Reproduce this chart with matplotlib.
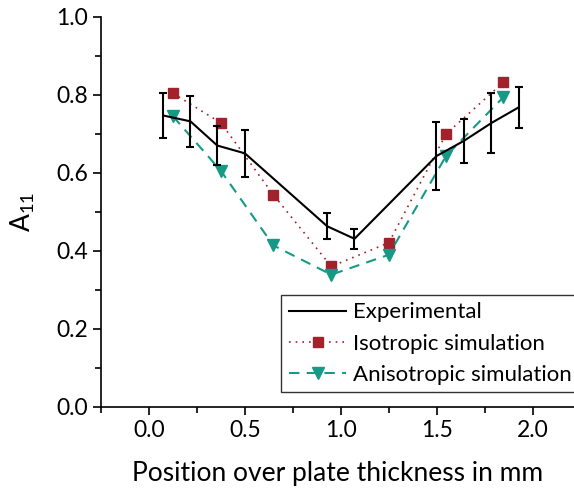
import matplotlib.pyplot as plt
from matplotlib.lines import Line2D
from matplotlib.ticker import MultipleLocator

plt.rcParams['font.family'] = ['Lato', 'DejaVu Sans']
plt.rcParams['mathtext.fontset'] = 'custom'
plt.rcParams['mathtext.rm'] = 'Lato'
plt.rcParams['mathtext.it'] = 'Lato'

# experimental data with error bars
x_exp = [0.075, 0.216, 0.356, 0.50, 0.929, 1.071, 1.498, 1.641, 1.785, 1.927]
y_exp = [0.747, 0.732, 0.670, 0.650, 0.463, 0.431, 0.643, 0.682, 0.728, 0.768]
err_exp = [0.057, 0.066, 0.049, 0.060, 0.033, 0.025, 0.088, 0.056, 0.077, 0.053]

# simulations
x_sim = [0.125, 0.375, 0.648, 0.95, 1.25, 1.549, 1.847]
y_iso = [0.804, 0.728, 0.544, 0.360, 0.421, 0.700, 0.832]
y_aniso = [0.745, 0.605, 0.414, 0.339, 0.390, 0.644, 0.794]

labels = ['Experimental', 'Isotropic simulation', 'Anisotropic simulation']

red = '#a3212a'
teal = '#169a86'
iso_style = dict(color=red, linestyle=(0, (1, 3)), linewidth=1.2, marker='s',
                 markersize=7, markerfacecolor=red, markeredgecolor=red)
aniso_style = dict(color=teal, linestyle=(0, (5, 3.5)), linewidth=1.5, marker='v',
                   markersize=9, markerfacecolor=teal, markeredgecolor=teal)

fig = plt.figure(figsize=(5.74, 4.95), dpi=100)
ax = fig.add_axes([0.176, 0.178, 0.824, 0.788])

ax.plot(x_sim, y_iso, zorder=2, **iso_style)
ax.plot(x_sim, y_aniso, zorder=2, **aniso_style)
ax.errorbar(x_exp, y_exp, yerr=err_exp, color='black', linewidth=1.5,
            elinewidth=1.5, capsize=2.7, capthick=1.5, zorder=3)

ax.set_xlim(-0.25, 2.215)
ax.set_ylim(0.0, 1.0)
ax.xaxis.set_major_locator(MultipleLocator(0.5))
ax.xaxis.set_minor_locator(MultipleLocator(0.25))
ax.yaxis.set_major_locator(MultipleLocator(0.2))
ax.yaxis.set_minor_locator(MultipleLocator(0.1))
ax.tick_params(which='major', direction='out', length=6, width=1.2, labelsize=16.5)
ax.tick_params(which='minor', direction='out', length=4, width=1.2)
for s in ['top', 'right']:
    ax.spines[s].set_visible(False)
for s in ['left', 'bottom']:
    ax.spines[s].set_linewidth(1.2)

ax.set_xlabel('Position over plate thickness in mm', fontsize=19, labelpad=14)
ax.set_ylabel('A$_{11}$', fontsize=19, labelpad=14)

handles = [Line2D([], [], color='black', linewidth=1.5),
           Line2D([], [], **iso_style),
           Line2D([], [], **aniso_style)]
leg = ax.legend(handles, labels, loc='lower right', bbox_to_anchor=(1.012, 0.037),
                fontsize=16, fancybox=False, frameon=True, handlelength=2.6,
                numpoints=1, borderaxespad=0, borderpad=0.35, labelspacing=0.5,
                handletextpad=0.3)
leg.get_frame().set_edgecolor('black')
leg.get_frame().set_linewidth(1.0)

fig.savefig('out.png', dpi=100)
